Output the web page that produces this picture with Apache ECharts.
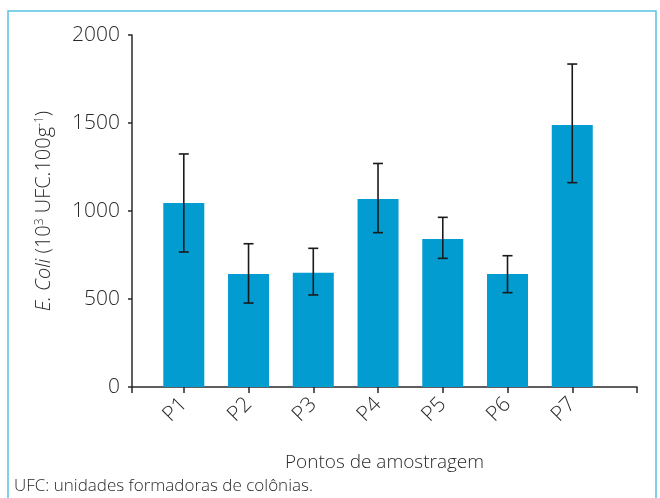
<!DOCTYPE html>
<html>
<head>
<meta charset="utf-8">
<script src="https://cdn.jsdelivr.net/npm/echarts@6/dist/echarts.min.js"></script>
<style>
  html, body { margin: 0; padding: 0; background: #fff; }
  #main { width: 660px; height: 498px; }
</style>
</head>
<body>
<div id="main"></div>
<script>
// pontos de amostragem e médias
var categories = ['P1', 'P2', 'P3', 'P4', 'P5', 'P6', 'P7'];
var means = [1045, 642, 649, 1068, 841, 642, 1489];
var lower = [767, 477, 523, 877, 731, 536, 1161];
var upper = [1324, 814, 788, 1270, 964, 746, 1835];
var yTicks = [0, 500, 1000, 1500, 2000];

var txt = '#2a2a2a';
var font = 'Open Sans';
var fw = 300;

var myChart = echarts.init(document.getElementById('main'));

var barData = means.map(function (v, i) { return [i + 1, v]; });
var errData = means.map(function (v, i) { return [i + 1, lower[i], upper[i]]; });

var option = {
    animation: false,
    backgroundColor: '#fff',
    grid: { left: 132, right: 23, top: 35, bottom: 111 },
    xAxis: {
        type: 'value',
        min: 0.2,
        max: 8,
        name: 'Pontos de amostragem',
        nameLocation: 'middle',
        nameGap: 66,
        nameTextStyle: { color: txt, fontFamily: font, fontWeight: fw, fontSize: 19 },
        axisLine: { lineStyle: { color: txt, width: 1.5 } },
        axisTick: {
            length: 6,
            lineStyle: { color: txt, width: 1.5 },
            customValues: [0.2, 1, 2, 3, 4, 5, 6, 7, 8]
        },
        axisLabel: {
            customValues: [1, 2, 3, 4, 5, 6, 7],
            rotate: 45,
            margin: 14,
            color: txt,
            fontFamily: font,
            fontWeight: fw,
            fontSize: 21,
            formatter: function (v) { return categories[Math.round(v) - 1]; }
        },
        splitLine: { show: false }
    },
    yAxis: {
        type: 'value',
        min: yTicks[0],
        max: yTicks[yTicks.length - 1],
        interval: 500,
        name: '{i|E. Coli} (10{s|3} UFC.100g{s|-1})',
        nameLocation: 'middle',
        nameGap: 77,
        nameRotate: 90,
        nameTextStyle: {
            color: txt, fontFamily: font, fontWeight: fw, fontSize: 20,
            rich: {
                i: { fontStyle: 'italic', fontSize: 20, fontFamily: font, fontWeight: fw, color: txt },
                s: { fontSize: 12, fontFamily: font, fontWeight: fw, color: txt, verticalAlign: 'top', padding: [0, 0, 9, 0] }
            }
        },
        axisLine: { show: true, lineStyle: { color: txt, width: 1.5 } },
        axisTick: { show: true, length: 4, lineStyle: { color: txt, width: 1.5 } },
        axisLabel: {
            color: txt, fontFamily: font, fontWeight: fw, fontSize: 21, margin: 12,
            formatter: function (v) { return String(v); }
        },
        splitLine: { show: false }
    },
    series: [
        {
            type: 'bar',
            data: barData,
            barWidth: 41,
            itemStyle: { color: '#029cd1' }
        },
        {
            type: 'custom',
            data: errData,
            z: 10,
            renderItem: function (params, api) {
                var x = api.value(0);
                var lo = api.coord([x, api.value(1)]);
                var hi = api.coord([x, api.value(2)]);
                var w = 5;
                var st = { stroke: '#1a1a1a', lineWidth: 1.6 };
                return {
                    type: 'group',
                    children: [
                        { type: 'line', shape: { x1: hi[0], y1: hi[1], x2: lo[0], y2: lo[1] }, style: st },
                        { type: 'line', shape: { x1: hi[0] - w, y1: hi[1], x2: hi[0] + w, y2: hi[1] }, style: st },
                        { type: 'line', shape: { x1: lo[0] - w, y1: lo[1], x2: lo[0] + w, y2: lo[1] }, style: st }
                    ]
                };
            }
        }
    ],
    graphic: [
        {
            type: 'rect',
            shape: { x: 8, y: 11, width: 648, height: 500 },
            style: { fill: 'none', stroke: '#55c1e2', lineWidth: 1.5 },
            silent: true
        },
        {
            type: 'text',
            left: 14,
            top: 478,
            style: { text: 'UFC: unidades formadoras de colônias.', fill: txt, font: '300 17px "Open Sans"' }
        }
    ]
};

myChart.setOption(option);
</script>
</body>
</html>
